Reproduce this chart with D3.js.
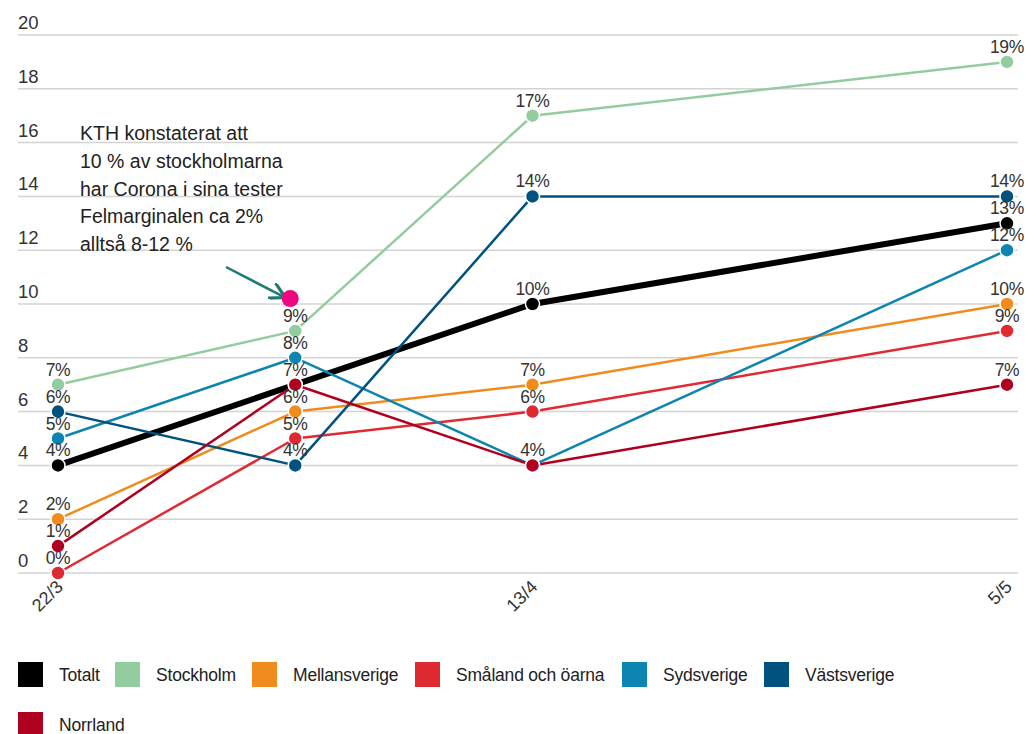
<!DOCTYPE html>
<html><head><meta charset="utf-8">
<script src="https://cdn.jsdelivr.net/npm/d3@7"></script>
<style>body{margin:0;background:#fff;font-family:"Liberation Sans",Arial,sans-serif}</style>
</head><body><svg id="c" width="1026" height="734"></svg>
<script>
const dates = ["2020-03-22","2020-04-02","2020-04-13","2020-05-05"];
const xTickLabels = ["22/3","13/4","5/5"];
const xTickDates = ["2020-03-22","2020-04-13","2020-05-05"];
const yTicks = [0,2,4,6,8,10,12,14,16,18,20];
const seriesNames = ["Totalt","Stockholm","Mellansverige","Småland och öarna","Sydsverige","Västsverige","Norrland"];
const seriesColors = ["#000000","#93cc9f","#f08c1e","#df2a32","#0e85b1","#02527f","#b0001f"];
const totalt = [4,7,10,13];
const stockholm = [7,9,17,19];
const mellansverige = [2,6,7,10];
const smaland = [0,5,6,9];
const sydsverige = [5,8,4,12];
const vastsverige = [6,4,14,14];
const norrland = [1,7,4,7];
const seriesValues = [totalt,stockholm,mellansverige,smaland,sydsverige,vastsverige,norrland];
const annotationLines = ["KTH konstaterat att","10 % av stockholmarna","har Corona i sina tester","Felmarginalen ca 2%","alltså 8-12 %"];
const kthDate = "2020-04-02";
const kthValue = 10.2;

const svg = d3.select("#c");
const parse = d3.utcParse("%Y-%m-%d");
const x = d3.scaleUtc().domain([parse(dates[0]), parse(dates[3])]).range([58,1007]);
const y = d3.scaleLinear().domain([0,20]).range([573,35]);

// grid
const g = svg.append("g");
g.selectAll("line.grid").data(yTicks).join("line")
  .attr("x1",18).attr("x2",1018).attr("y1",d=>y(d)).attr("y2",d=>y(d))
  .attr("stroke","#d4d4d4").attr("stroke-width",1.5);
g.selectAll("text.yl").data(yTicks).join("text")
  .attr("x",18).attr("y",d=>y(d)-6).text(d=>d)
  .attr("font-size",18.5).attr("fill","#333");

// x ticks
g.selectAll("text.xl").data(xTickDates).join("text")
  .attr("transform",d=>`translate(${x(parse(d))+6},${588}) rotate(-45)`)
  .attr("text-anchor","end").attr("font-size",18).attr("fill","#333")
  .text((d,i)=>xTickLabels[i]);

const line = d3.line().x((d,i)=>x(parse(dates[i]))).y(d=>y(d));
seriesValues.forEach((vals,si)=>{
  svg.append("path").datum(vals).attr("d",line).attr("fill","none")
    .attr("stroke",seriesColors[si]).attr("stroke-width", si===0?6:2.5)
    .attr("stroke-linejoin","round");
});
seriesValues.forEach((vals,si)=>{
  svg.append("g").selectAll("circle").data(vals).join("circle")
    .attr("cx",(d,i)=>x(parse(dates[i]))).attr("cy",d=>y(d)).attr("r",7)
    .attr("fill",seriesColors[si]).attr("stroke","#fff").attr("stroke-width",1.5);
});
const seen = new Set();
seriesValues.forEach((vals,si)=>{
  vals.forEach((v,i)=>{
    const key = dates[i]+"|"+v;
    if (seen.has(key)) return;
    seen.add(key);
    svg.append("text").attr("x",x(parse(dates[i]))).attr("y",y(v)-9)
      .attr("text-anchor","middle").attr("font-size",17.5).attr("fill","#333")
      .attr("letter-spacing",-0.3).text(v+"%");
  });
});

// annotation
const ann = svg.append("g");
annotationLines.forEach((t,i)=>{
  ann.append("text").attr("x",80).attr("y",140+i*27.8).attr("font-size",19.5).attr("fill","#222")
    .text(t);
});
const kx = x(parse(kthDate)) - 6, ky = y(kthValue);
svg.append("defs").append("marker").attr("id","ah").attr("viewBox","0 0 10 10")
  .attr("refX",9).attr("refY",5).attr("markerWidth",7).attr("markerHeight",7).attr("orient","auto")
  .append("path").attr("d","M0,0 L9,5 L0,10").attr("fill","none").attr("stroke","#1f7a73").attr("stroke-width",1.8);
svg.append("line").attr("x1",226).attr("y1",267).attr("x2",kx-4).attr("y2",ky-1)
  .attr("stroke","#1f7a73").attr("stroke-width",2.5).attr("marker-end","url(#ah)");
svg.append("circle").attr("cx",x(parse(kthDate))-5).attr("cy",y(kthValue)).attr("r",8.5).attr("fill","#f0077f");

// legend
const legX = [18,115,252,415,622,764,18];
const legY = [662,662,662,662,662,662,712];
seriesNames.forEach((n,i)=>{
  svg.append("rect").attr("x",legX[i]).attr("y",legY[i]).attr("width",25).attr("height",25)
    .attr("fill",seriesColors[i]);
  svg.append("text").attr("x",legX[i]+41).attr("y",legY[i]+19).attr("font-size",17.5).attr("fill","#222")
    .attr("letter-spacing",-0.2).text(n);
});
</script></body></html>
